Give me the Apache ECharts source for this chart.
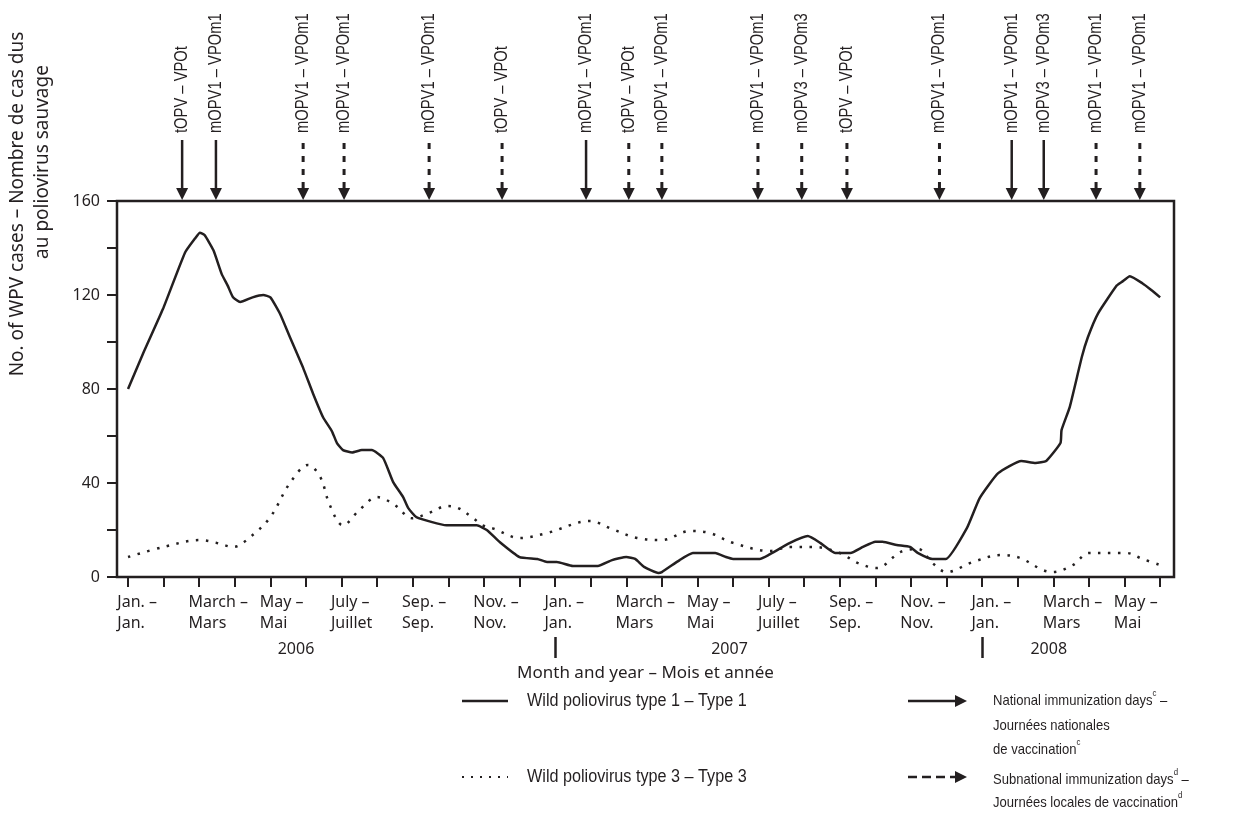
<!DOCTYPE html>
<html>
<head>
<meta charset="utf-8">
<script src="https://cdn.jsdelivr.net/npm/echarts@6/dist/echarts.min.js"></script>
<style>html,body{margin:0;padding:0;background:#fff}#c{width:1249px;height:814px}</style>
</head>
<body>
<div id="c"></div>
<script>
// ---- Data (month index: 0 = Jan 2006) ----
const wpv1Months = [0, 0.42, 0.98, 1.6, 1.88, 2.02, 2.15, 2.4, 2.63, 2.8, 2.95, 3.15, 3.5, 3.8, 4.0, 4.27, 4.55, 4.92, 5.2, 5.48, 5.73, 5.87, 6.04, 6.3, 6.57, 6.85, 7.17, 7.45, 7.73, 7.87, 8.1, 8.95, 9.8, 10.08, 10.45, 11.0, 11.5, 11.77, 12.05, 12.5, 13.2, 13.6, 14.0, 14.25, 14.5, 14.9, 15.0, 15.5, 15.87, 16.5, 16.8, 17.0, 17.75, 18.0, 18.6, 19.1, 19.45, 19.87, 20.3, 20.65, 21.0, 21.2, 21.6, 21.97, 22.2, 22.6, 22.98, 23.57, 23.93, 24.45, 25.1, 25.5, 25.8, 26.2, 26.23, 26.46, 26.8, 26.97, 27.25, 27.78, 27.92, 28.15, 28.5, 28.76, 29.0];
const wpv1Cases = [80, 95, 114, 138, 144, 146.5, 145.5, 139, 129, 124, 119, 117, 119, 120, 119, 112, 102, 89, 78, 68, 62, 57, 54, 53, 54, 54, 50.6, 40.4, 34, 29.4, 25.5, 22, 22, 20, 14.8, 8.5, 7.7, 6.4, 6.4, 4.7, 4.7, 7.2, 8.5, 7.7, 4.3, 1.7, 2.1, 7.2, 10.2, 10.2, 8.5, 7.7, 7.7, 9.4, 14.5, 17.4, 14.5, 10.2, 10.2, 12.8, 15, 15, 13.6, 12.8, 10.2, 7.7, 7.7, 20.8, 33.6, 44.2, 49.4, 48.5, 49.4, 57, 62.5, 72.3, 93.6, 102, 112, 124, 125.5, 128, 125, 122, 119];
const wpv3Months = [0, 1.0, 2.02, 2.5, 2.95, 3.5, 4.0, 4.55, 5.06, 5.4, 5.67, 6.04, 6.5, 7.0, 7.5, 7.98, 8.48, 8.96, 9.27, 9.7, 9.97, 10.3, 11.0, 11.77, 12.98, 13.6, 14.3, 15.0, 15.8, 16.35, 17.0, 18.03, 18.6, 19.25, 20.0, 20.5, 21.04, 21.7, 22.2, 22.6, 23.0, 23.74, 24.55, 25.06, 25.7, 25.98, 26.55, 27.0, 28.06, 28.5, 29.0];
const wpv3Cases = [8.5, 12.8, 15.7, 14.5, 12.8, 17.9, 25.5, 40, 47.7, 42.6, 30.6, 22, 28.5, 34, 30.6, 25, 27.4, 30.2, 29.4, 25, 22, 20.4, 16.6, 18.7, 23.8, 20.4, 16.6, 15.7, 19.6, 18.7, 14.5, 11.1, 12.8, 12.8, 10.2, 6, 3.8, 10.6, 11.9, 6, 2.1, 6.4, 9.4, 8.1, 3, 2.1, 5.1, 10.2, 10.2, 7.7, 5.1];

const arrowMonths = [1.52, 2.47, 4.92, 6.07, 8.46, 10.51, 12.87, 14.07, 15.0, 17.7, 18.93, 20.2, 22.8, 24.83, 25.73, 27.2, 28.43];
const arrowLabels = ['tOPV – VPOt', 'mOPV1 – VPOm1', 'mOPV1 – VPOm1', 'mOPV1 – VPOm1', 'mOPV1 – VPOm1', 'tOPV – VPOt', 'mOPV1 – VPOm1', 'tOPV – VPOt', 'mOPV1 – VPOm1', 'mOPV1 – VPOm1', 'mOPV3 – VPOm3', 'tOPV – VPOt', 'mOPV1 – VPOm1', 'mOPV1 – VPOm1', 'mOPV3 – VPOm3', 'mOPV1 – VPOm1', 'mOPV1 – VPOm1'];
const arrowKinds = ['N', 'N', 'S', 'S', 'S', 'S', 'N', 'S', 'S', 'S', 'S', 'S', 'S', 'N', 'N', 'S', 'S'];

const monthTicks = [0, 1, 2, 3, 4, 5, 6, 7, 8, 9, 10, 11, 12, 13, 14, 15, 16, 17, 18, 19, 20, 21, 22, 23, 24, 25, 26, 27, 28, 29];
const labelMonths = [0, 2, 4, 6, 8, 10, 12, 14, 16, 18, 20, 22, 24, 26, 28];
const monthLabelEn = ['Jan. –', 'March –', 'May –', 'July –', 'Sep. –', 'Nov. –'];
const monthLabelFr = ['Jan.', 'Mars', 'Mai', 'Juillet', 'Sep.', 'Nov.'];
const yearLabels = ['2006', '2007', '2008'];
const yearLabelMonths = [4.72, 16.9, 25.87];
const yearBreakMonths = [12, 24];
const yLabelValues = [0, 40, 80, 120, 160];

// ---- Styling ----
const INK = '#231f20';
const SANS = '"Noto Sans", "Open Sans", sans-serif';
const ARIAL = '"Liberation Sans", Arial, sans-serif';
const LABEL_SHIFT = 0.3;

const chart = echarts.init(document.getElementById('c'), null, {renderer: 'canvas'});

const supStyle = {font: '9px ' + ARIAL, lineHeight: 19, verticalAlign: 'top', fill: INK};

const option = {
  backgroundColor: '#fff',
  animation: false,
  grid: {left: 117, right: 75, top: 201, bottom: 237, show: true, borderColor: INK, borderWidth: 2.5, containLabel: false},
  xAxis: [
    {
      type: 'value', min: -0.31, max: 29.39,
      axisLine: {show: false, onZero: false},
      splitLine: {show: false},
      axisTick: {show: true, length: 10, lineStyle: {color: INK, width: 2}, customValues: monthTicks},
      axisLabel: {
        customValues: labelMonths.map(m => m - LABEL_SHIFT),
        align: 'left', margin: 15, lineHeight: 21,
        fontFamily: SANS, fontSize: 16, color: INK,
        formatter: v => {
          const m = Math.round(v + LABEL_SHIFT);
          const k = (m % 12) / 2;
          return monthLabelEn[k] + '\n' + monthLabelFr[k];
        }
      },
      name: 'Month and year – Mois et année', nameLocation: 'middle', nameGap: 88,
      nameTextStyle: {fontFamily: SANS, fontSize: 17, color: INK}
    },
    {
      type: 'value', min: -0.31, max: 29.39, position: 'bottom', offset: 60,
      axisLine: {show: false, onZero: false},
      splitLine: {show: false},
      axisTick: {show: true, length: 21, lineStyle: {color: INK, width: 2.5}, customValues: yearBreakMonths},
      axisLabel: {
        customValues: yearLabelMonths, margin: 4,
        fontFamily: SANS, fontSize: 16, color: INK,
        formatter: v => {
          const i = yearLabelMonths.findIndex(y => Math.abs(y - v) < 1e-6);
          return i >= 0 ? yearLabels[i] : '';
        }
      }
    }
  ],
  yAxis: {
    type: 'value', min: 0, max: 160, interval: 20,
    axisLine: {show: false, onZero: false},
    splitLine: {show: false},
    axisTick: {show: true, length: 10, lineStyle: {color: INK, width: 2}},
    axisLabel: {
      margin: 17, fontFamily: SANS, fontSize: 16, color: INK,
      formatter: v => yLabelValues.indexOf(v) >= 0 ? String(v) : ''
    }
  },
  series: [
    {
      name: 'Wild poliovirus type 1 – Type 1', type: 'line',
      data: wpv1Months.map((m, i) => [m, wpv1Cases[i]]),
      showSymbol: false, symbol: 'none', smooth: 0.15,
      lineStyle: {color: INK, width: 2.5}, silent: true
    },
    {
      name: 'Wild poliovirus type 3 – Type 3', type: 'line',
      data: wpv3Months.map((m, i) => [m, wpv3Cases[i]]),
      showSymbol: false, symbol: 'none', smooth: 0.35,
      lineStyle: {color: INK, width: 2.5, type: [2.5, 7.5]}, silent: true
    },
    {
      name: 'Immunization days', type: 'custom', clip: false, silent: true,
      data: arrowMonths.map(m => [m, 160]),
      renderItem: (params, api) => {
        const i = params.dataIndex;
        const p = api.coord([api.value(0), api.value(1)]);
        const x = p[0], y = p[1];
        const dashed = arrowKinds[i] === 'S';
        return {
          type: 'group',
          children: [
            {type: 'line', shape: {x1: x, y1: dashed ? y - 58 : y - 61, x2: x, y2: y - 12},
             style: {stroke: INK, lineWidth: dashed ? 3 : 2.5, lineDash: dashed ? [6, 7] : null}},
            {type: 'polygon', shape: {points: [[x - 6, y - 13], [x + 6, y - 13], [x, y - 1]]},
             style: {fill: INK}},
            {type: 'text', x: x, y: y - 68, rotation: Math.PI / 2, scaleX: 0.82,
             style: {text: arrowLabels[i], align: 'left', verticalAlign: 'middle',
                     font: '18px ' + ARIAL, fill: INK}}
          ]
        };
      }
    }
  ],
  graphic: [
    {type: 'text', x: 18, y: 204, rotation: Math.PI / 2,
     style: {text: 'No. of WPV cases – Nombre de cas dus', align: 'center', verticalAlign: 'middle', font: '19px ' + SANS, fill: INK}},
    {type: 'text', x: 43, y: 162, rotation: Math.PI / 2,
     style: {text: 'au poliovirus sauvage', align: 'center', verticalAlign: 'middle', font: '19px ' + SANS, fill: INK}},
    // legend: lines
    {type: 'line', shape: {x1: 462, y1: 701, x2: 508, y2: 701}, style: {stroke: INK, lineWidth: 2.5}},
    {type: 'text', x: 527, y: 701, scaleX: 0.9, style: {text: 'Wild poliovirus type 1 – Type 1', verticalAlign: 'middle', font: '18px ' + ARIAL, fill: INK}},
    {type: 'line', shape: {x1: 462, y1: 777, x2: 508, y2: 777}, style: {stroke: INK, lineWidth: 2, lineDash: [2, 7]}},
    {type: 'text', x: 527, y: 777, scaleX: 0.9, style: {text: 'Wild poliovirus type 3 – Type 3', verticalAlign: 'middle', font: '18px ' + ARIAL, fill: INK}},
    // legend: arrows
    {type: 'line', shape: {x1: 908, y1: 701, x2: 957, y2: 701}, style: {stroke: INK, lineWidth: 2.5}},
    {type: 'polygon', shape: {points: [[955, 695], [955, 707], [967, 701]]}, style: {fill: INK}},
    {type: 'text', x: 993, y: 689, scaleX: 0.87,
     style: {text: '{t|National immunization days}{s|c}{t| –}\n{t|Journées nationales}\n{t|de vaccination}{s|c}',
             verticalAlign: 'top', fill: INK,
             rich: {t: {font: '15px ' + ARIAL, lineHeight: 24.5, fill: INK}, s: supStyle}}},
    {type: 'line', shape: {x1: 908, y1: 777, x2: 957, y2: 777}, style: {stroke: INK, lineWidth: 2.5, lineDash: [9, 5]}},
    {type: 'polygon', shape: {points: [[955, 771], [955, 783], [967, 777]]}, style: {fill: INK}},
    {type: 'text', x: 993, y: 768, scaleX: 0.87,
     style: {text: '{t|Subnational immunization days}{s|d}{t| –}\n{t|Journées locales de vaccination}{s|d}',
             verticalAlign: 'top', fill: INK,
             rich: {t: {font: '15px ' + ARIAL, lineHeight: 23.5, fill: INK}, s: supStyle}}}
  ]
};
chart.setOption(option);
</script>
</body>
</html>
